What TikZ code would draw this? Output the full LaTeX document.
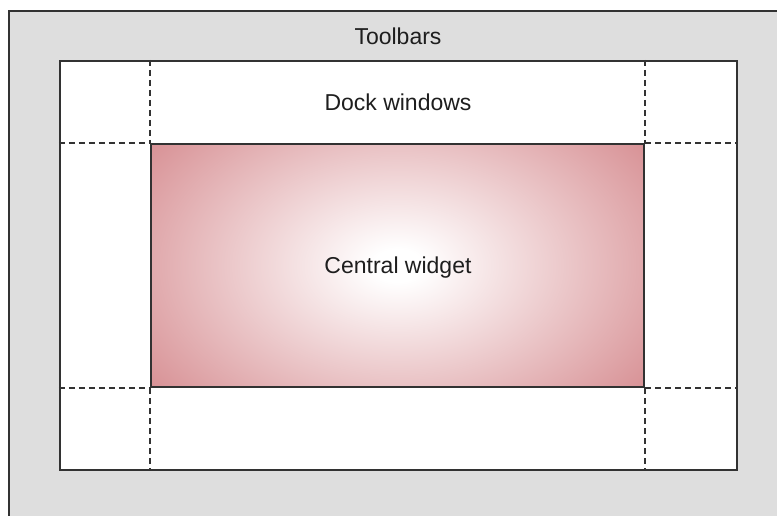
\documentclass[tikz,border=0pt]{standalone}
\usepackage{fontspec}
\setmainfont{Liberation Sans}
\usetikzlibrary{positioning}
\definecolor{barsgray}{RGB}{222,222,222}
\definecolor{edgegray}{RGB}{50,50,50}
\definecolor{widgetpink}{RGB}{216,146,150}
\definecolor{labelgray}{RGB}{30,30,30}
\pgfdeclareradialshading{cwshade}{\pgfpoint{0bp}{0bp}}{%
  color(0bp)=(white); color(2bp)=(white); color(25bp)=(widgetpink);
  color(50bp)=(widgetpink)}
\tikzset{
  winframe/.style={rectangle, draw=edgegray, fill=barsgray, line width=2.2pt,
                   inner sep=0pt},
  dockframe/.style={rectangle, draw=edgegray, fill=white, line width=2.2pt,
                    inner sep=0pt},
  cwidget/.style={rectangle, draw=edgegray, line width=2pt, inner sep=0pt,
                  path picture={\path[shading=cwshade]
                    (path picture bounding box.center)
                    ellipse [x radius=307pt, y radius=202pt];}},
  dockline/.style={line width=2.2pt, edgegray, dash pattern=on 6pt off 4pt},
  lbl/.style={font=\fontsize{23}{27}\selectfont, text=labelgray, inner sep=0pt},
}
\begin{document}
\begin{tikzpicture}[x=1pt, y=-1pt]
  \useasboundingbox (0,0) rectangle (777,515);
  \clip (0,0) rectangle (777,515);
  % main window with toolbar area
  \node[winframe, minimum width=790pt, minimum height=520pt] (window) at (404,271) {};
  \node[dockframe, minimum width=677pt, minimum height=409pt] (dock) at (398.5,265.5) {};
  \node[cwidget, minimum width=493pt, minimum height=243pt] (central) at (397.5,265.5) {};
  % dock window borders
  \draw[dockline] (central.north west |- dock.north) -- (central.north west);
  \draw[dockline] (central.north east |- dock.north) -- (central.north east);
  \draw[dockline] (central.south west) -- (central.south west |- dock.south);
  \draw[dockline] (central.south east) -- (central.south east |- dock.south);
  \draw[dockline] (dock.west |- central.north west) -- (central.north west);
  \draw[dockline] (central.north east) -- (dock.east |- central.north east);
  \draw[dockline] (dock.west |- central.south west) -- (central.south west);
  \draw[dockline] (central.south east) -- (dock.east |- central.south east);
  % labels
  \node[lbl] (toolbars) at (398,36) {Toolbars};
  \node[lbl] (docks) at (398,102) {Dock windows};
  \node[lbl] (cwlabel) at (398,268) {Central widget};
\end{tikzpicture}
\end{document}
